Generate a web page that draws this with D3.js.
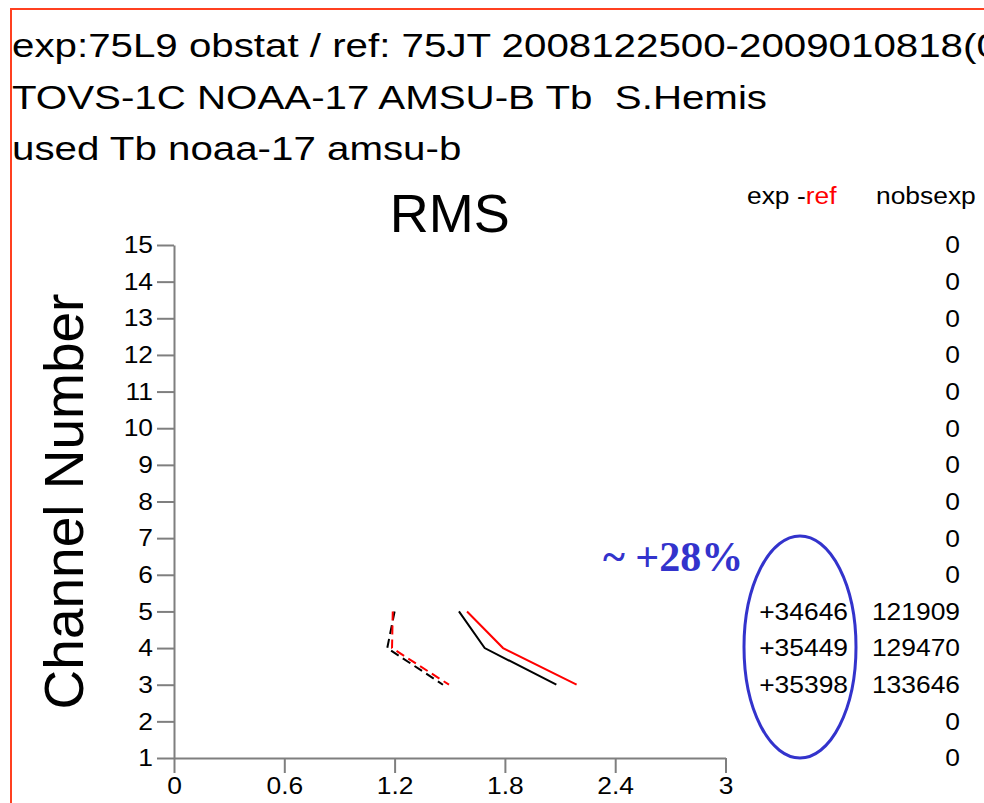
<!DOCTYPE html>
<html>
<head>
<meta charset="utf-8">
<script src="https://cdn.jsdelivr.net/npm/d3@7"></script>
<style>
  body { margin: 0; background: #fff; }
  svg { display: block; font-family: "Liberation Sans", Arial, sans-serif; }
</style>
</head>
<body>
<div id="chart"></div>
<script>
const titleLines = [
  "exp:75L9 obstat / ref: 75JT 2008122500-2009010818(00)",
  "TOVS-1C NOAA-17 AMSU-B Tb  S.Hemis",
  "used Tb noaa-17 amsu-b"
];
const channels = [1, 2, 3, 4, 5, 6, 7, 8, 9, 10, 11, 12, 13, 14, 15];
const xTicks = [0, 0.6, 1.2, 1.8, 2.4, 3];

// channels with data, top to bottom
const usedChannels = [5, 4, 3];
const rmsExp = [1.55, 1.69, 2.08];
const rmsRef = [1.594, 1.79, 2.19];
const sdExp = [1.20, 1.16, 1.463];
const sdRef = [1.19, 1.186, 1.496];

// nobsexp per channel 1..15
const nobsExp = [0, 0, 133646, 129470, 121909, 0, 0, 0, 0, 0, 0, 0, 0, 0, 0];
const nobsDiff = [34646, 35449, 35398];  // for usedChannels

const annotation = "~ +28%";

const width = 984;
const height = 803;
const margin = {top: 245, right: 258.5, bottom: 45, left: 174};

const svg = d3.select("#chart")
    .append("svg")
    .attr("width", width)
    .attr("height", height);

// frame
svg.append("rect")
    .attr("x", 11)
    .attr("y", 9)
    .attr("width", width + 20)
    .attr("height", height + 20)
    .attr("fill", "none")
    .attr("stroke", "#ff4020")
    .attr("stroke-width", 2);

// stretched text helper (the original glyphs are a bit wide)
function wideText(parent, x, y, txt, size, sx, anchor) {
  const t = parent.append("g")
      .attr("transform", `translate(${x},${y})`)
      .append("text")
      .attr("transform", `scale(${sx},1)`)
      .attr("text-anchor", anchor || "start")
      .style("font-size", size + "px")
      .style("white-space", "pre")
      .text(txt);
  return t;
}

const header = svg.append("g");
titleLines.forEach((s, i) => {
  wideText(header, 12, 57 + i * 51.5, s, 34, 1.185);
});

const xScale = d3.scaleLinear()
    .domain([0, 3])
    .range([margin.left, width - margin.right]);

const yScale = d3.scaleLinear()
    .domain([1, 15])
    .range([height - margin.bottom, margin.top]);

const axisColor = "#7f7f7f";

const yAxis = svg.append("g")
    .attr("transform", `translate(${margin.left},0)`)
    .call(d3.axisLeft(yScale).tickValues(channels).tickFormat(d3.format("d"))
      .tickSize(17).tickSizeOuter(0).tickPadding(4));

const xAxis = svg.append("g")
    .attr("transform", `translate(0,${yScale(1)})`)
    .call(d3.axisBottom(xScale).tickValues(xTicks).tickFormat(d => d)
      .tickSize(15).tickSizeOuter(0).tickPadding(4));

[yAxis, xAxis].forEach(ax => {
  ax.select(".domain").attr("stroke", axisColor).attr("stroke-width", 2);
  ax.selectAll(".tick line").attr("stroke", axisColor).attr("stroke-width", 2);
  ax.selectAll(".tick text")
      .attr("fill", "#000")
      .style("font-size", "24px")
      .style("font-family", "'Liberation Sans', Arial, sans-serif");
});
yAxis.selectAll(".tick text")
    .attr("transform", "scale(1.1,1)")
    .attr("x", -21 / 1.1);
xAxis.selectAll(".tick text")
    .attr("transform", "scale(1.1,1)");

// titles
svg.append("text")
    .attr("x", (xScale(0) + xScale(3)) / 2)
    .attr("y", 232)
    .attr("text-anchor", "middle")
    .style("font-size", "54px")
    .text("RMS");

svg.append("text")
    .attr("transform", `translate(83,${(yScale(1) + yScale(15)) / 2}) rotate(-90)`)
    .attr("text-anchor", "middle")
    .style("font-size", "55px")
    .text("Channel Number");

// lines
const line = d3.line()
    .x(d => xScale(d[0]))
    .y(d => yScale(d[1]));

const series = [
  {values: rmsExp, color: "#000", dash: null},
  {values: rmsRef, color: "#ff0000", dash: null},
  {values: sdExp, color: "#000", dash: "9,5"},
  {values: sdRef, color: "#ff0000", dash: "9,5"}
];

svg.append("g")
    .selectAll("path")
    .data(series)
    .join("path")
    .attr("d", s => line(s.values.map((v, i) => [v, usedChannels[i]])))
    .attr("fill", "none")
    .attr("stroke", s => s.color)
    .attr("stroke-width", 2)
    .attr("stroke-dasharray", s => s.dash);

// right side columns
const cols = svg.append("g");
const hdr = cols.append("g")
    .attr("transform", "translate(747,204)")
    .append("text")
    .attr("transform", "scale(1.1,1)")
    .style("font-size", "24px");
hdr.append("tspan").text("exp -");
hdr.append("tspan").attr("fill", "#ff0000").text("ref");
wideText(cols, 876, 204, "nobsexp", 24, 1.1);

channels.forEach((c, i) => {
  wideText(cols, 960, yScale(c), nobsExp[i], 24, 1.1, "end").attr("dy", "0.35em");
});
usedChannels.forEach((c, i) => {
  wideText(cols, 848, yScale(c), "+" + nobsDiff[i], 24, 1.1, "end").attr("dy", "0.35em");
});

// annotation
svg.append("ellipse")
    .attr("cx", 800)
    .attr("cy", 647)
    .attr("rx", 56)
    .attr("ry", 111)
    .attr("fill", "none")
    .attr("stroke", "#3333cc")
    .attr("stroke-width", 3);

svg.append("text")
    .attr("x", 603)
    .attr("y", 571)
    .attr("fill", "#3333cc")
    .style("font-family", "'Liberation Serif', 'Times New Roman', serif")
    .style("font-weight", "bold")
    .style("font-size", "42px")
    .text(annotation);
</script>
</body>
</html>
